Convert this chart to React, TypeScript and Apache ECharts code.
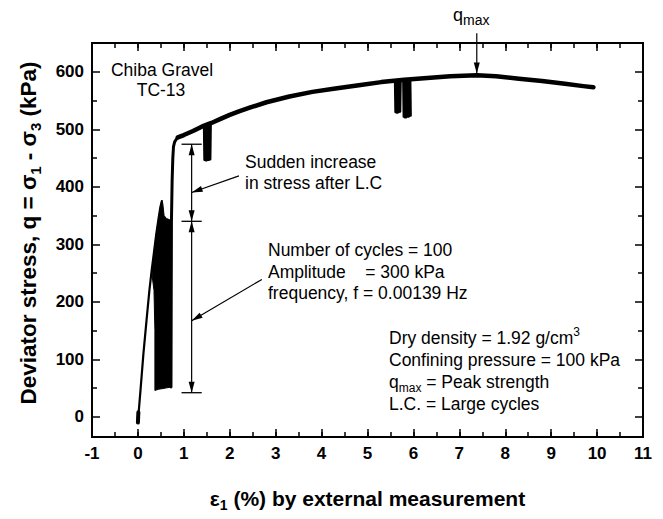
import { useEffect, useRef } from "react";
import * as echarts from "echarts";

const FONT = '"Liberation Sans", Arial, Helvetica, sans-serif';

// ---- axes ----
const xMin = -1;
const xMax = 11;
const yMin = -35;
const yMax = 650;
const yMajorTicks = [0, 100, 200, 300, 400, 500, 600];
const yMinorTicks = [50, 150, 250, 350, 450, 550];

// ---- data (strain %, deviator stress kPa) ----
// seating at start of test
const seatingStrain = [0.0, 0.004, 0.01];
const seatingStress = [-10, -2, 8];

// initial monotonic loading up to first peak
const initialStrain = [0.0, 0.01, 0.06, 0.12, 0.19, 0.25, 0.3, 0.34, 0.4, 0.45, 0.49, 0.52];
const initialStress = [-10, 2, 50, 110, 170, 220, 255, 280, 318, 345, 365, 375];

// envelope of the 100 large cycles (filled block)
const cycleBlockStrain = [0.37, 0.37, 0.35, 0.31, 0.34, 0.4, 0.45, 0.49, 0.52, 0.54, 0.57, 0.62, 0.68, 0.72, 0.735, 0.73, 0.72, 0.6, 0.45];
const cycleBlockStress = [46, 150, 220, 245, 280, 318, 345, 365, 376, 372, 350, 345, 343, 342, 330, 200, 52, 50, 48];

// reloading after large cycles
const reloadStrain = [0.72, 0.725, 0.73, 0.745, 0.76, 0.775, 0.8, 0.84, 0.87];
const reloadStress = [52, 200, 340, 410, 450, 470, 478, 483, 486];

// monotonic loading to failure
const mainStrain = [0.87, 1.0, 1.2, 1.4, 1.6, 1.8, 2.0, 2.2, 2.45, 2.8, 3.3, 3.8, 4.3, 4.85, 5.3, 5.8, 6.3, 6.8, 7.38, 7.8, 8.3, 8.8, 9.3, 9.7, 9.92];
const mainStress = [486, 490, 497, 505, 511, 518, 525, 531, 538, 547, 557, 565, 571, 577, 582, 586, 589, 592, 594, 592, 588, 584, 579, 575, 573];

// small cycle groups
const smallCycles1Strain = [1.44, 1.45, 1.465, 1.475, 1.49, 1.5, 1.515, 1.525, 1.54, 1.55, 1.565, 1.575, 1.585];
const smallCycles1Stress = [506, 447, 507, 446, 507, 446, 508, 447, 508, 447, 509, 448, 510];
const smallCycles2Strain = [5.6, 5.61, 5.625, 5.635, 5.65, 5.66, 5.675, 5.685, 5.7, 5.71, 5.72];
const smallCycles2Stress = [584, 530, 584, 529, 585, 529, 585, 530, 585, 531, 585];
const smallCycles3Strain = [5.78, 5.79, 5.805, 5.815, 5.83, 5.84, 5.855, 5.865, 5.88, 5.89, 5.905, 5.915, 5.93, 5.94];
const smallCycles3Stress = [586, 522, 586, 521, 586, 521, 587, 522, 587, 522, 587, 523, 587, 524];

// annotation anchors (data units)
const dimStrain = 1.17;
const dimCapHalf = 0.22;
const dimLevels = [474, 340, 42];
const leader1 = [[2.2, 419], [1.17, 390]];
const leader2 = [[2.7, 239], [1.17, 167]];
const qmaxArrow = [[7.38, 667], [7.38, 597]];

const zip = (a: number[], b: number[]) => a.map((v, i) => [v, b[i]]);

const axisLineStyle = { color: "#000", width: 1.8 };
const tickStyle = { color: "#000", width: 1.5 };

function xAxisDef(position: "bottom" | "top", interval: number, len: number, labels: boolean) {
  return {
    type: "value",
    position,
    min: xMin,
    max: xMax,
    interval,
    axisLine: { show: true, onZero: false, lineStyle: axisLineStyle },
    axisTick: { show: true, inside: true, length: len, lineStyle: tickStyle },
    axisLabel: {
      show: labels,
      color: "#000",
      fontFamily: FONT,
      fontWeight: "bold",
      fontSize: 17,
      margin: 8,
    },
    splitLine: { show: false },
  };
}

function yAxisDef(position: "left" | "right", ticks: number[], len: number, labels: boolean) {
  return {
    type: "value",
    position,
    min: yMin,
    max: yMax,
    axisLine: { show: true, onZero: false, lineStyle: axisLineStyle },
    axisTick: { show: true, inside: true, length: len, lineStyle: tickStyle, customValues: ticks },
    axisLabel: {
      show: labels,
      customValues: ticks,
      color: "#000",
      fontFamily: FONT,
      fontWeight: "bold",
      fontSize: 17,
      margin: 8,
    },
    splitLine: { show: false },
  };
}

const lineSeries = (strain: number[], stress: number[], width: number) => ({
  type: "line",
  data: zip(strain, stress),
  showSymbol: false,
  symbol: "none",
  lineStyle: { color: "#000", width, join: "round", cap: "round" },
  xAxisIndex: 0,
  yAxisIndex: 0,
  silent: true,
});

export default function App() {
  const ref = useRef<HTMLDivElement>(null);

  useEffect(() => {
    const chart = echarts.init(ref.current!, null, { renderer: "svg" });
    const option: any = {
      animation: false,
      backgroundColor: "#fff",
      grid: { left: 92, right: 20, top: 43, bottom: 82, containLabel: false },
      xAxis: [
        xAxisDef("bottom", 1, 8, true),
        xAxisDef("bottom", 0.5, 5, false),
        xAxisDef("top", 1, 8, false),
        xAxisDef("top", 0.5, 5, false),
      ],
      yAxis: [
        yAxisDef("left", yMajorTicks, 8, true),
        yAxisDef("left", yMinorTicks, 5, false),
        yAxisDef("right", yMajorTicks, 8, false),
        yAxisDef("right", yMinorTicks, 5, false),
      ],
      series: [
        lineSeries(seatingStrain, seatingStress, 4),
        lineSeries(initialStrain, initialStress, 2.2),
        {
          type: "custom",
          xAxisIndex: 0,
          yAxisIndex: 0,
          silent: true,
          data: [[cycleBlockStrain[0], cycleBlockStress[0]]],
          renderItem: (_params: any, api: any) => {
            const pts = cycleBlockStrain.map((x, i) => api.coord([x, cycleBlockStress[i]]));
            return {
              type: "polygon",
              shape: { points: pts },
              style: { fill: "#000", stroke: "#000", lineWidth: 1 },
            };
          },
        },
        lineSeries(reloadStrain, reloadStress, 3),
        lineSeries(mainStrain, mainStress, 4.5),
        lineSeries(smallCycles1Strain, smallCycles1Stress, 2.4),
        lineSeries(smallCycles2Strain, smallCycles2Stress, 2.4),
        lineSeries(smallCycles3Strain, smallCycles3Stress, 2.4),
      ],
    };
    chart.setOption(option);

    const toPx = (p: number[]) =>
      chart.convertToPixel({ xAxisIndex: 0, yAxisIndex: 0 }, p) as unknown as number[];

    const els: any[] = [];
    const line = (a: number[], b: number[], w = 1.2) =>
      els.push({
        type: "line",
        z: 100,
        shape: { x1: a[0], y1: a[1], x2: b[0], y2: b[1] },
        style: { stroke: "#000", lineWidth: w },
      });
    const head = (tip: number[], from: number[], len = 11, half = 3) => {
      const dx = tip[0] - from[0];
      const dy = tip[1] - from[1];
      const d = Math.hypot(dx, dy) || 1;
      const ux = dx / d;
      const uy = dy / d;
      const bx = tip[0] - ux * len;
      const by = tip[1] - uy * len;
      els.push({
        type: "polygon",
        z: 101,
        shape: {
          points: [
            [tip[0], tip[1]],
            [bx - uy * half, by + ux * half],
            [bx + uy * half, by - ux * half],
          ],
        },
        style: { fill: "#000" },
      });
    };
    const arrow = (fromD: number[], toD: number[]) => {
      const a = toPx(fromD);
      const b = toPx(toD);
      line(a, b, 1.2);
      head(b, a);
    };

    // dimension bars
    dimLevels.forEach((lv) => {
      line(toPx([dimStrain - dimCapHalf, lv]), toPx([dimStrain + dimCapHalf, lv]), 1.3);
    });
    for (let i = 0; i < dimLevels.length - 1; i++) {
      const top = toPx([dimStrain, dimLevels[i]]);
      const bot = toPx([dimStrain, dimLevels[i + 1]]);
      line(top, bot, 1.2);
      head(top, bot);
      head(bot, top);
    }
    arrow(leader1[0], leader1[1]);
    arrow(leader2[0], leader2[1]);
    arrow(qmaxArrow[0], qmaxArrow[1]);

    const txtBase = { fontFamily: FONT, fontSize: 17.5, fill: "#000", color: "#000" };
    const text = (x: number, y: number, t: string, align = "left", rich?: any, extra: any = {}) =>
      els.push({
        type: "text",
        z: 102,
        x,
        y,
        ...extra,
        style: {
          ...txtBase,
          text: t,
          align,
          textAlign: align,
          verticalAlign: "middle",
          textVerticalAlign: "middle",
          rich,
        },
      });

    const richSubSup = {
      n: { fontFamily: FONT, fontSize: 17.5, lineHeight: 24, fill: "#000", color: "#000" },
      sub: { fontFamily: FONT, fontSize: 12, lineHeight: 12, verticalAlign: "bottom", fill: "#000", color: "#000" },
      sup: { fontFamily: FONT, fontSize: 12, lineHeight: 12, verticalAlign: "top", fill: "#000", color: "#000" },
    };

    text(162, 70, "Chiba Gravel", "center");
    text(161, 90, "TC-13", "center");
    text(245, 161.5, "Sudden increase");
    text(245, 183, "in stress after L.C");
    text(268, 250, "Number of cycles = 100");
    text(268, 271.7, "Amplitude\u00a0\u00a0\u00a0\u00a0= 300 kPa");
    text(268, 293.3, "frequency, f = 0.00139 Hz");
    text(389, 337.5, "{n|Dry density = 1.92 g/cm}{sup|3}", "left", richSubSup);
    text(389, 360, "Confining pressure = 100 kPa");
    text(389, 381.7, "{n|q}{sub|max}{n| = Peak strength}", "left", richSubSup);
    text(389, 404, "L.C. = Large cycles");
    text(453, 15, "{n|q}{sub|max}", "left", {
      n: { fontFamily: FONT, fontSize: 18, lineHeight: 24, fill: "#000", color: "#000" },
      sub: { fontFamily: FONT, fontSize: 14, lineHeight: 14, verticalAlign: "bottom", fill: "#000", color: "#000" },
    });

    const richTitle = (size: number, sub: number) => ({
      b: { fontFamily: FONT, fontSize: size, fontWeight: "bold", lineHeight: size + 7, fill: "#000", color: "#000" },
      s: { fontFamily: FONT, fontSize: sub, fontWeight: "bold", lineHeight: sub, verticalAlign: "bottom", fill: "#000", color: "#000" },
    });
    text(367.5, 498, "{b|ε}{s|1}{b| (%) by external measurement}", "center", richTitle(21, 14));
    text(28, 233, "{b|Deviator stress, q = σ}{s|1}{b| - σ}{s|3}{b| (kPa)}", "center", richTitle(22.5, 15), {
      rotation: Math.PI / 2,
    });

    chart.setOption({ graphic: { elements: els } });

    return () => chart.dispose();
  }, []);

  return (
    <div
      ref={ref}
      style={{ position: "fixed", left: 0, top: 0, width: 663, height: 519, background: "#fff" }}
    />
  );
}
